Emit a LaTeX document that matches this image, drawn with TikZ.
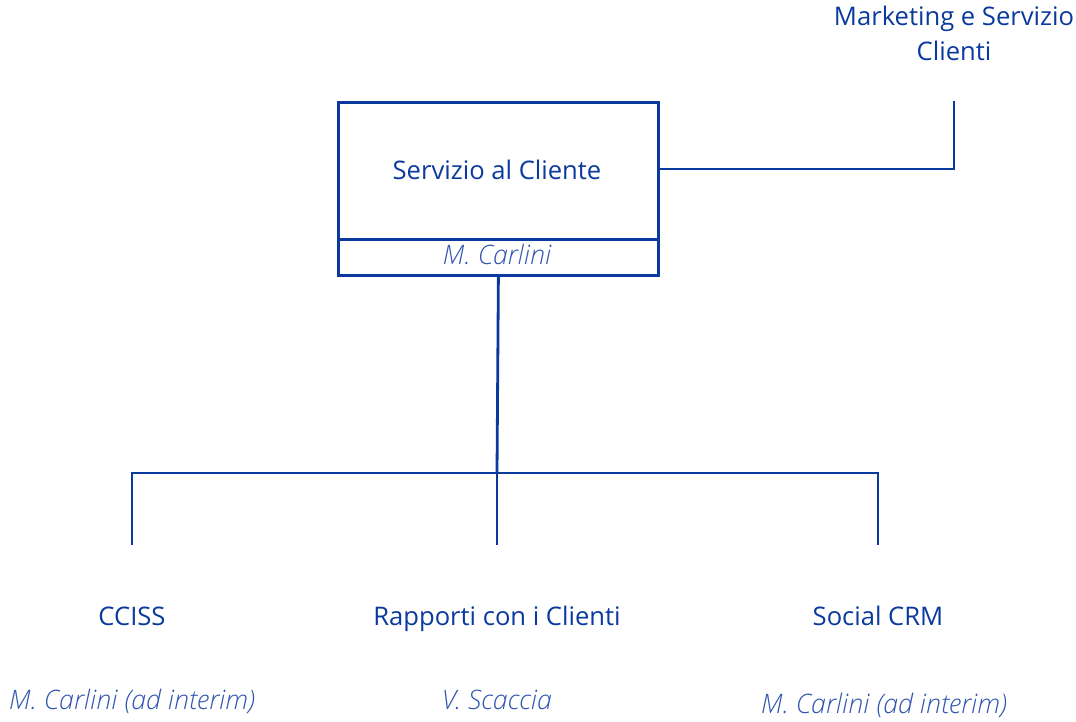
\documentclass[tikz,border=0pt]{standalone}
\usepackage{fontspec}
\setmainfont{Open Sans}
\newfontfamily\lightfont{Open Sans Light}
\definecolor{mainblue}{HTML}{0B3A9E}
\definecolor{nameblue}{HTML}{2F55B0}
\begin{document}
\begin{tikzpicture}[x=1pt,y=-1pt,
  line/.style={draw=mainblue,line width=2.8pt},
  unit/.style={text=mainblue,font=\fontsize{25.6}{35}\selectfont,align=center,inner sep=0pt,anchor=base},
  person/.style={text=nameblue,font=\fontsize{26.8}{30}\selectfont\lightfont\itshape,inner sep=0pt,anchor=base}]
\useasboundingbox (0,0) rectangle (1076,721);
% main box
\node[line,minimum width=320pt,minimum height=137pt,inner sep=0pt,anchor=north west] (top) at (337,101) {};
\node[line,minimum width=320pt,minimum height=36pt,inner sep=0pt,anchor=north west] (topname) at (337,238) {};
\node[unit] (toplabel) at (497,179) {Servizio al Cliente};
\node[person] (topperson) at (497,264) {M. Carlini};
% parent
\node[unit] (parent) at (954,60) {Marketing e Servizio\\Clienti};
\coordinate (pc) at (954,101);
\coordinate (pj) at (954,169);
\draw[line] (top.east |- pj) -- (pj) -- (pc);
% children
\coordinate (split) at (497,473);
\coordinate (ja) at (132,473);
\coordinate (jc) at (878,473);
\coordinate (ea) at (132,545);
\coordinate (eb) at (497,545);
\coordinate (ec) at (878,545);
\draw[line] (topname.south) -- (split);
\draw[line] (ea) -- (ja) -- (jc) -- (ec);
\draw[line] (split) -- (eb);
\node[unit] (c1) at (132,625) {CCISS};
\node[unit] (c2) at (497,625) {Rapporti con i Clienti};
\node[unit] (c3) at (878,625) {Social CRM};
\node[person] (p1) at (132,709) {M. Carlini (ad interim)};
\node[person] (p2) at (497,709) {V. Scaccia};
\node[person] (p3) at (884,713) {M. Carlini (ad interim)};
\end{tikzpicture}
\end{document}
